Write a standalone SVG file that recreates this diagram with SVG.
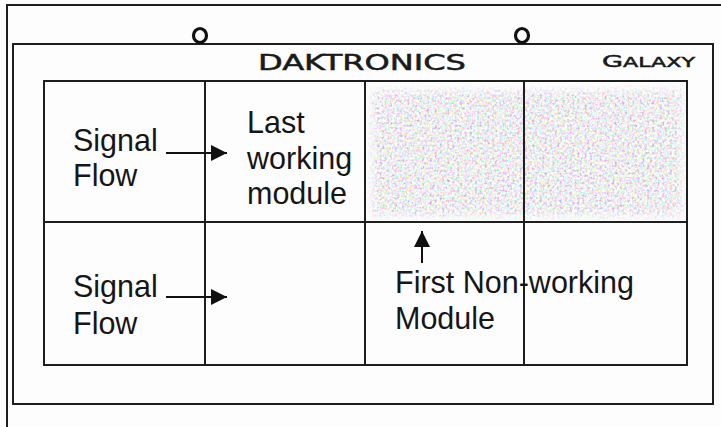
<svg xmlns="http://www.w3.org/2000/svg" width="721" height="427" viewBox="0 0 721 427">
<style>
.ln{fill:none;stroke:#1e1e1e;stroke-width:2}
.lbl{font-family:"Liberation Sans",Arial,sans-serif;font-size:30.5px;fill:#161616}
.brand{font-family:"DejaVu Sans",Verdana,sans-serif;fill:#1a1a1a;stroke:#1a1a1a;stroke-width:0.5}
.conn{stroke:#111;stroke-width:2;fill:none}
</style>
<defs>
<marker id="ah" markerUnits="userSpaceOnUse" markerWidth="17" markerHeight="17" refX="16" refY="8" orient="auto">
<path d="M0,0 L16,8 L0,16 z" fill="#111"/>
</marker>
<filter id="noise" x="0" y="0" width="1" height="1">
<feTurbulence type="fractalNoise" baseFrequency="0.4" numOctaves="2" seed="7" result="t"/>
<feColorMatrix in="t" type="matrix" values="1.5 0 0 0 0.12  0 1.5 0 0 0.11  0 0 1.5 0 0.14  0 0 0 0 1" result="c"/>
<feGaussianBlur in="c" stdDeviation="0.4" result="b"/>
<feComposite in="b" in2="SourceGraphic" operator="in"/>
</filter>
<filter id="soft" x="-10%" y="-10%" width="120%" height="120%">
<feGaussianBlur stdDeviation="4"/>
</filter>
<mask id="fade">
<rect x="372" y="90" width="310" height="126" fill="#fff" filter="url(#soft)"/>
</mask>
</defs>
<rect x="0" y="0" width="721" height="427" fill="#fdfdfd"/>
<path class="ln" d="M7,427 V5 H721"/>
<g id="sign">
<rect class="ln" x="13" y="44" width="700" height="360"/>
<ellipse cx="200" cy="35.5" rx="6.5" ry="7" fill="none" stroke="#111" stroke-width="3.2"/>
<ellipse cx="522" cy="35.5" rx="6.5" ry="7" fill="none" stroke="#111" stroke-width="3.2"/>
<text class="brand" x="258" y="70" font-size="20.5" textLength="208" lengthAdjust="spacingAndGlyphs">DAKTRONICS</text>
<text class="brand" x="602" y="67" font-size="13.5" textLength="93" lengthAdjust="spacingAndGlyphs"><tspan font-size="16.5">G</tspan>ALAXY</text>
</g>
<g id="noise-area" mask="url(#fade)">
<rect x="366" y="84" width="320" height="136" fill="#fff" filter="url(#noise)"/>
</g>
<g id="module-r1c1">
<rect class="ln" x="44" y="81" width="161" height="141"/>
<text class="lbl" x="73" y="151">Signal</text>
<text class="lbl" x="73" y="186">Flow</text>
</g>
<g id="module-r1c2">
<rect class="ln" x="205" y="81" width="160" height="141"/>
<text class="lbl" x="247" y="133">Last</text>
<text class="lbl" x="247" y="169">working</text>
<text class="lbl" x="247" y="204">module</text>
</g>
<g id="module-r1c3">
<rect class="ln" x="365" y="81" width="159" height="141"/>
</g>
<g id="module-r1c4">
<rect class="ln" x="524" y="81" width="163" height="141"/>
</g>
<g id="module-r2c1">
<rect class="ln" x="44" y="222" width="161" height="143"/>
<text class="lbl" x="73" y="297">Signal</text>
<text class="lbl" x="73" y="334">Flow</text>
</g>
<g id="module-r2c2">
<rect class="ln" x="205" y="222" width="160" height="143"/>
</g>
<g id="module-r2c3">
<rect class="ln" x="365" y="222" width="159" height="143"/>
</g>
<g id="module-r2c4">
<rect class="ln" x="524" y="222" width="163" height="143"/>
</g>
<g id="label-first-nonworking">
<text class="lbl" x="395" y="293">First Non-working</text>
<text class="lbl" x="395" y="329">Module</text>
</g>
<g id="connectors">
<line class="conn" x1="166" y1="153" x2="227" y2="153" marker-end="url(#ah)"/>
<line class="conn" x1="166" y1="297" x2="227" y2="297" marker-end="url(#ah)"/>
<line class="conn" x1="422" y1="263" x2="422" y2="231" marker-end="url(#ah)"/>
</g>
</svg>
